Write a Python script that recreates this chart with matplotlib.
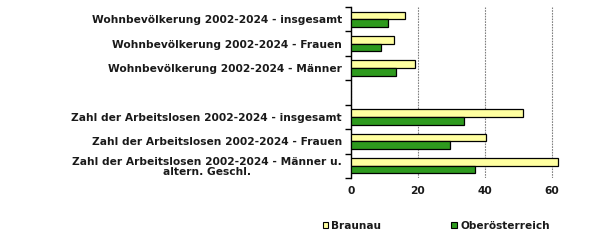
import numpy as np
import matplotlib
matplotlib.use("Agg")
import matplotlib.pyplot as plt
from matplotlib.patches import Patch

categories = [
    "Wohnbevölkerung 2002-2024 - insgesamt",
    "Wohnbevölkerung 2002-2024 - Frauen",
    "Wohnbevölkerung 2002-2024 - Männer",
    "",
    "Zahl der Arbeitslosen 2002-2024 - insgesamt",
    "Zahl der Arbeitslosen 2002-2024 - Frauen",
    "Zahl der Arbeitslosen 2002-2024 - Männer u.\naltern. Geschl.",
]
braunau = [16.1, 12.8, 19.2, np.nan, 51.5, 40.4, 62.0]
ooe = [11.0, 8.9, 13.5, np.nan, 33.8, 29.6, 37.1]
series_names = ["Braunau", "Oberösterreich"]
xticks = [0, 20, 40, 60]

c_yellow = "#FFFFA0"
c_green = "#2E9A1E"
txt = "#1a1a1a"

plt.rcParams['font.family'] = ['DejaVu Sans']
fig = plt.figure(figsize=(6.05, 2.44), dpi=100)
ax = fig.add_axes([351/605, 66/244, 234/605, 171/244])

y = np.arange(len(categories))
h = 0.31
ax.barh(y - h/2, braunau, height=h, color=c_yellow, edgecolor="black", linewidth=0.9, zorder=3)
ax.barh(y + h/2, ooe, height=h, color=c_green, edgecolor="black", linewidth=0.9, zorder=3)

fs = 7.7
ax.set_ylim(len(categories) - 0.5, -0.5)
ax.set_xlim(0, 70)
ax.set_yticks(y)
ax.set_yticklabels(categories, fontsize=fs, fontweight="bold", color=txt, multialignment="center",
                   linespacing=1.0)
ax.set_yticks(np.arange(-0.5, len(categories)), minor=True)
ax.tick_params(axis="y", which="major", length=0, pad=6.5)
ax.tick_params(axis="y", which="minor", length=4, width=1, direction="out", color="black")
ax.set_xticks(xticks)
ax.set_xticklabels([str(v) for v in xticks], fontsize=fs, fontweight="bold", color=txt)
ax.tick_params(axis="x", length=0, pad=5.5)

for s in ["top", "right", "bottom"]:
    ax.spines[s].set_visible(False)
ax.spines["left"].set_linewidth(1)
ax.xaxis.grid(True, color="#808080", linestyle=(0, (1.5, 1)), linewidth=0.8, zorder=0)
ax.set_axisbelow(True)

handles = [Patch(facecolor=c_yellow, edgecolor="black", linewidth=0.8),
           Patch(facecolor=c_green, edgecolor="black", linewidth=0.8)]
fig.legend(handles, series_names, loc="center left", bbox_to_anchor=(313/605, 18/244),
           ncol=2, frameon=False, prop={"weight": "bold", "size": 7.6},
           handlelength=0.55, handleheight=0.55, handletextpad=0.3, columnspacing=6.6,
           labelcolor=txt)

fig.savefig("out.png", dpi=100)
